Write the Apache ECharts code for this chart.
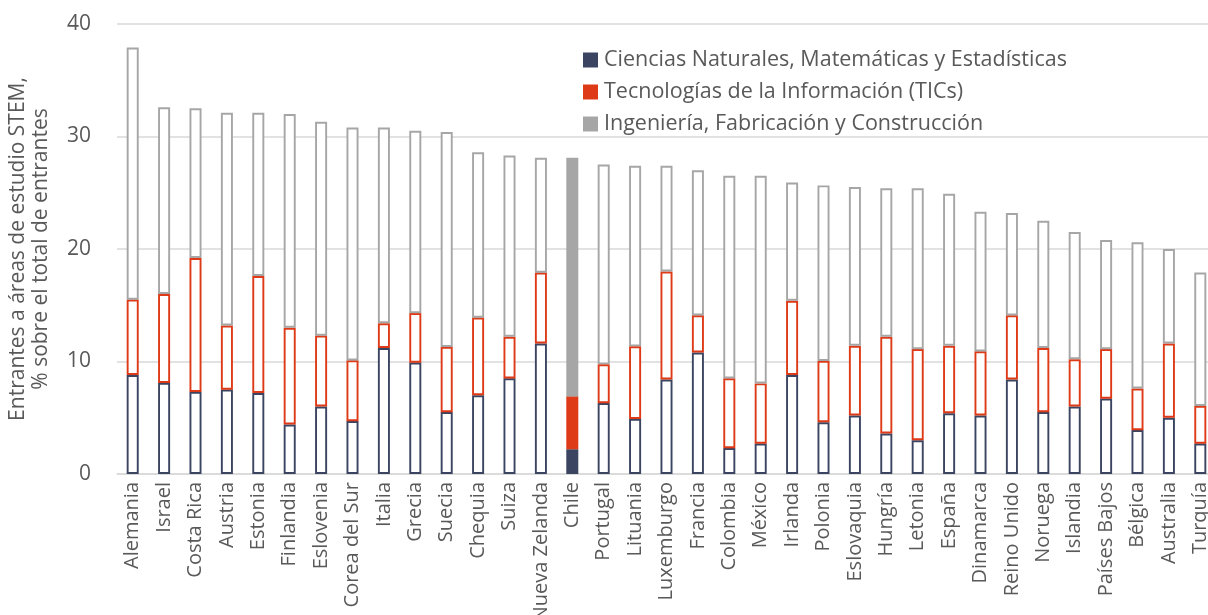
<!DOCTYPE html>
<html>
<head>
<meta charset="utf-8">
<script src="https://cdn.jsdelivr.net/npm/echarts@6/dist/echarts.min.js"></script>
<style>
  html, body { margin: 0; padding: 0; background: #fff; overflow: hidden; }
  #chart { width: 1208px; height: 615px; }
</style>
</head>
<body>
<div id="chart"></div>
<script>
// Países ordenados por el total de entrantes a áreas STEM
const paises = ['Alemania','Israel','Costa Rica','Austria','Estonia','Finlandia','Eslovenia','Corea del Sur','Italia','Grecia','Suecia','Chequia','Suiza','Nueva Zelanda','Chile','Portugal','Lituania','Luxemburgo','Francia','Colombia','México','Irlanda','Polonia','Eslovaquia','Hungría','Letonia','España','Dinamarca','Reino Unido','Noruega','Islandia','Países Bajos','Bélgica','Australia','Turquía'];

// % de entrantes por área (segmentos apilados)
const naturales = [8.8,8.1,7.3,7.5,7.2,4.4,6.0,4.7,11.2,9.9,5.5,7.0,8.5,11.6,2.2,6.3,4.9,8.4,10.8,2.3,2.7,8.8,4.6,5.2,3.6,3.0,5.4,5.2,8.4,5.5,6.0,6.7,3.9,5.0,2.7];
const tics      = [6.7,7.9,11.9,5.7,10.4,8.6,6.3,5.4,2.2,4.4,5.8,6.9,3.7,6.3,4.7,3.45,6.45,9.6,3.3,6.2,5.35,6.6,5.45,6.2,8.6,8.1,6.0,5.7,5.7,5.7,4.2,4.4,3.7,6.6,3.35];
const ingenieria= [22.4,16.6,13.3,18.9,14.5,19.0,19.0,20.7,17.4,16.2,19.1,14.7,16.1,10.2,21.2,17.75,16.05,9.4,12.9,18.0,18.45,10.5,15.6,14.1,13.2,14.3,13.5,12.4,9.1,11.3,11.3,9.7,13.0,8.4,11.85];

const nombresSeries = ['Ciencias Naturales, Matemáticas y Estadísticas','Tecnologías de la Información (TICs)','Ingeniería, Fabricación y Construcción'];
const colores = ['#3B4461','#DE3A17','#A6A6A6'];
const destacado = 'Chile';

const FONT = '"Open Sans", "Noto Sans", sans-serif';
const TXT = '#595959';

// Barras con contorno; el país destacado va relleno
function serie(idx, valores) {
  const c = colores[idx];
  return {
    name: nombresSeries[idx],
    type: 'bar',
    stack: 'total',
    barWidth: 12,
    itemStyle: { color: c },
    emphasis: { disabled: true },
    data: valores.map((v, i) => paises[i] === destacado
      ? { value: v, itemStyle: { color: c, borderColor: c, borderWidth: 1.4 } }
      : { value: v, itemStyle: { color: '#ffffff', borderColor: c, borderWidth: 1.9 } })
  };
}

const chart = echarts.init(document.getElementById('chart'), null, { renderer: 'canvas' });
chart.setOption({
  animation: false,
  textStyle: { fontFamily: FONT },
  // la última categoría queda parcialmente fuera del lienzo
  grid: { left: 117, top: 24, width: 1099, height: 450, containLabel: false, outerBoundsMode: 'none' },
  legend: {
    orient: 'vertical',
    left: 578,
    top: 43,
    itemWidth: 15,
    itemHeight: 15,
    itemGap: 8,
    icon: 'rect',
    textStyle: { color: TXT, fontSize: 21.5, fontFamily: FONT, lineHeight: 24, padding: [0, 0, 0, 1] },
    data: nombresSeries
  },
  xAxis: {
    type: 'category',
    data: paises,
    axisLine: { lineStyle: { color: '#D9D9D9', width: 1.5 } },
    axisTick: { show: false },
    axisLabel: { rotate: 90, interval: 0, color: TXT, fontSize: 20, fontFamily: FONT, margin: 8 }
  },
  yAxis: {
    type: 'value',
    min: 0, max: 40, interval: 10,
    name: 'Entrantes a áreas de estudio STEM,\n% sobre el total de entrantes',
    nameLocation: 'middle',
    nameGap: 64,
    nameTextStyle: { color: TXT, fontSize: 21, fontFamily: FONT, lineHeight: 23 },
    axisLine: { show: false },
    axisTick: { show: false },
    axisLabel: { color: TXT, fontSize: 21, fontFamily: FONT, margin: 26 },
    splitLine: { lineStyle: { color: '#D9D9D9', width: 1.5 } }
  },
  series: [serie(0, naturales), serie(1, tics), serie(2, ingenieria)]
});
</script>
</body>
</html>
